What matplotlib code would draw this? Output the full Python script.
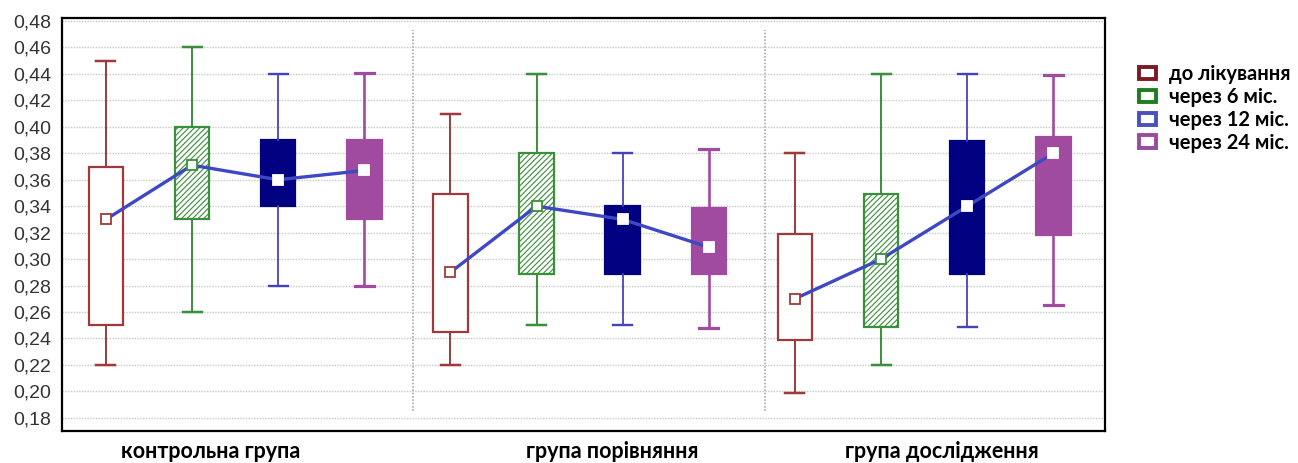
import matplotlib.pyplot as plt
from matplotlib.patches import Patch
from matplotlib.ticker import FuncFormatter

# groups and periods
groups = ['контрольна група', 'група порівняння', 'група дослідження']
periods = ['до лікування', 'через 6 міс.', 'через 12 міс.', 'через 24 міс.']

# box statistics per group (rows) and period (columns)
whis_low = [[0.220, 0.260, 0.280, 0.280],
            [0.220, 0.250, 0.250, 0.248],
            [0.199, 0.220, 0.249, 0.265]]
q1 = [[0.250, 0.330, 0.340, 0.330],
      [0.245, 0.289, 0.289, 0.289],
      [0.239, 0.249, 0.289, 0.318]]
medians = [[0.330, 0.371, 0.360, 0.367],
           [0.290, 0.340, 0.330, 0.309],
           [0.270, 0.300, 0.340, 0.380]]
q3 = [[0.370, 0.400, 0.390, 0.390],
      [0.349, 0.380, 0.340, 0.339],
      [0.319, 0.349, 0.389, 0.392]]
whis_high = [[0.450, 0.460, 0.440, 0.441],
             [0.410, 0.440, 0.380, 0.383],
             [0.380, 0.440, 0.440, 0.439]]

# styles per period
edge_colors = ['#a0393c', '#3a8f3a', '#000080', '#a04aa0']
whisker_colors = ['#a0393c', '#3a8f3a', '#4444b8', '#a04aa0']
whisker_widths = [1.4, 1.4, 1.3, 1.9]
face_colors = ['white', 'white', '#000080', '#a04aa0']
hatches = [None, '//////', None, None]
marker_edges = ['#a0393c', '#3a8f3a', 'white', 'white']
legend_colors = ['#7b1a25', '#1f7d1f', '#4a50c0', '#9a4aa0']
line_color = '#3f48c4'

fig = plt.figure(figsize=(12.98, 4.63), dpi=100)
ax = fig.add_axes([62 / 1298, 32 / 463, (1105 - 62) / 1298, (445 - 32) / 463])

plt.rcParams['hatch.linewidth'] = 0.8

for g in range(len(groups)):
    xs = []
    for p in range(len(periods)):
        x = g * 4 + p
        xs.append(x)
        stats = [{'whislo': whis_low[g][p], 'q1': q1[g][p], 'med': medians[g][p],
                  'q3': q3[g][p], 'whishi': whis_high[g][p], 'fliers': []}]
        wc = whisker_colors[p]
        b = ax.bxp(stats, positions=[x], widths=0.40, patch_artist=True,
                   showfliers=False, manage_ticks=False,
                   boxprops=dict(facecolor=face_colors[p], edgecolor=edge_colors[p], linewidth=1.6),
                   whiskerprops=dict(color=wc, linewidth=whisker_widths[p]),
                   capprops=dict(color=wc, linewidth=whisker_widths[p] + 0.4),
                   medianprops=dict(visible=False),
                   capwidths=0.22)
        if hatches[p]:
            b['boxes'][0].set_hatch(hatches[p])
    ax.plot(xs, medians[g], color=line_color, linewidth=2.4, zorder=4)
    for p in range(len(periods)):
        ax.plot(xs[p], medians[g][p], marker='s', markersize=6.5,
                markerfacecolor='white', markeredgecolor=marker_edges[p],
                markeredgewidth=1.3, linestyle='none', zorder=5)

# group separators
ax.vlines([3.57, 7.65], 0.185, 0.473, colors='#aaaaaa', linestyles=(0, (1, 1)), linewidth=1.2)

ax.set_xlim(-0.51, 11.60)
ax.set_ylim(0.17, 0.4823)
ax.set_yticks([0.18 + 0.02 * i for i in range(16)])
ax.yaxis.set_major_formatter(FuncFormatter(lambda v, pos: f'{v:.2f}'.replace('.', ',')))
ax.yaxis.grid(True, color='#c8c8c8', linestyle=(0, (1, 1)), linewidth=1.0)
ax.set_axisbelow(True)
ax.tick_params(axis='y', length=0, labelsize=14, labelcolor='#333333', pad=8)
for t in ax.get_yticklabels():
    t.set_family('Liberation Sans')

ax.set_xticks([1.21, 5.88, 9.71])
ax.set_xticklabels(groups, fontsize=15.5, fontweight='bold', family='Lato')
ax.tick_params(axis='x', length=0, pad=7)

for s in ax.spines.values():
    s.set_linewidth(1.6)
    s.set_color('black')

handles = [Patch(facecolor='white', edgecolor=c, linewidth=2.8) for c in legend_colors]
fig.legend(handles, periods, loc='upper left', bbox_to_anchor=(1121 / 1298, 1 - 46 / 463),
           frameon=False, prop={'family': 'Lato', 'weight': 'bold', 'size': 14.5},
           handlelength=0.85, handleheight=0.55, labelspacing=0.14, handletextpad=0.62)

plt.savefig('out.png', dpi=100)
